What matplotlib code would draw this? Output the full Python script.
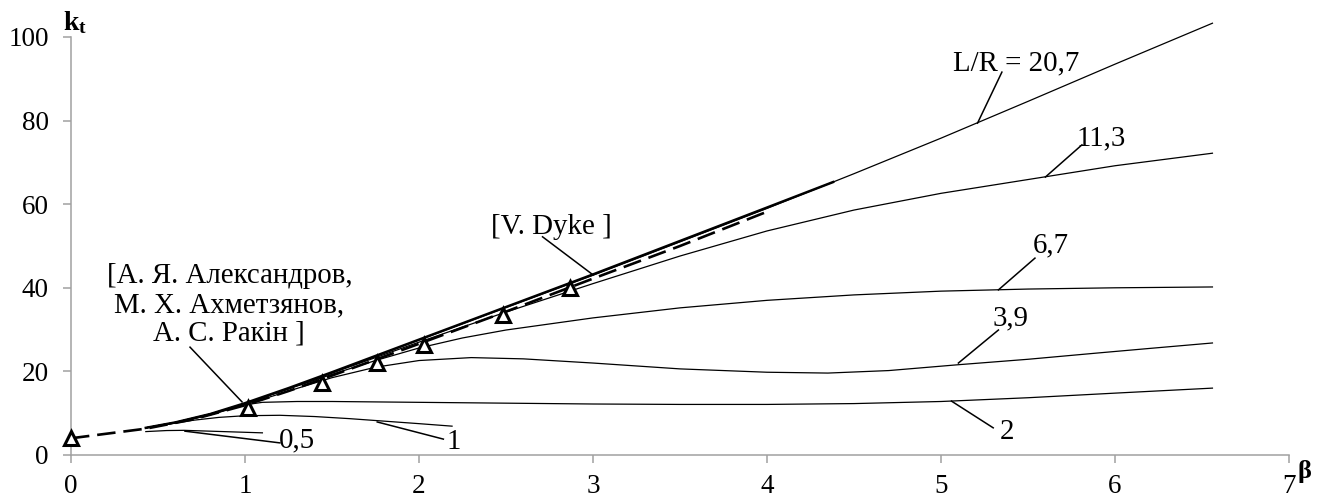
import matplotlib
matplotlib.use("Agg")
import matplotlib.pyplot as plt

plt.rcParams['font.family'] = ['Liberation Serif', 'DejaVu Serif']
plt.rcParams['mathtext.fontset'] = 'custom'
plt.rcParams['mathtext.rm'] = 'Liberation Serif'
plt.rcParams['mathtext.bf'] = 'Liberation Serif:bold'

# L/R = 20,7
b_207 = [0.43, 0.6, 0.8, 1.0, 1.25, 1.5, 1.75, 2.0, 2.5, 3.0, 3.5, 4.0, 4.5, 5.0, 5.5, 6.0, 6.56]
k_207 = [6.5, 7.8, 9.8, 12.3, 15.9, 19.7, 23.6, 27.5, 35.3, 43.0, 51.0, 59.0, 67.3, 75.8, 84.6, 93.5, 103.3]

# L/R = 11,3
b_113 = [0.43, 0.6, 0.8, 1.0, 1.25, 1.5, 1.75, 2.0, 2.5, 3.0, 3.5, 4.0, 4.5, 5.0, 5.5, 6.0, 6.56]
k_113 = [6.5, 7.8, 9.8, 12.3, 15.9, 19.6, 23.3, 27.0, 34.2, 41.0, 47.6, 53.6, 58.6, 62.6, 65.9, 69.2, 72.2]

# L/R = 6,7
b_67 = [0.43, 0.6, 0.8, 1.0, 1.25, 1.5, 1.75, 2.0, 2.25, 2.5, 3.0, 3.5, 4.0, 4.5, 5.0, 5.5, 6.0, 6.56]
k_67 = [6.5, 7.8, 9.8, 12.3, 15.8, 19.3, 22.6, 25.6, 28.0, 29.9, 32.8, 35.2, 37.0, 38.3, 39.2, 39.7, 40.0, 40.2]

# L/R = 3,9
b_39 = [0.43, 0.6, 0.8, 1.0, 1.25, 1.5, 1.75, 2.0, 2.3, 2.6, 3.0, 3.5, 4.0, 4.35, 4.7, 5.1, 5.5, 5.9, 6.2, 6.56]
k_39 = [6.5, 7.7, 9.6, 12.0, 15.3, 18.5, 21.0, 22.6, 23.3, 23.0, 22.0, 20.6, 19.8, 19.6, 20.2, 21.6, 22.9, 24.4, 25.5, 26.8]

# L/R = 2
b_2 = [0.43, 0.6, 0.8, 0.9, 1.0, 1.1, 1.3, 1.5, 2.0, 2.5, 3.0, 3.5, 4.0, 4.5, 5.0, 5.5, 6.0, 6.56]
k_2 = [6.5, 7.7, 9.6, 10.9, 12.0, 12.6, 12.8, 12.8, 12.6, 12.4, 12.2, 12.1, 12.1, 12.3, 12.8, 13.7, 14.8, 16.0]

# L/R = 1
b_1 = [0.43, 0.55, 0.7, 0.85, 1.0, 1.2, 1.4, 1.6, 1.8, 2.0, 2.19]
k_1 = [6.5, 7.3, 8.3, 9.0, 9.4, 9.5, 9.2, 8.7, 8.1, 7.5, 6.9]

# L/R = 0,5
b_05 = [0.43, 0.55, 0.65, 0.8, 0.95, 1.1]
k_05 = [5.6, 5.85, 5.9, 5.7, 5.5, 5.3]

# V. Dyke (thick line)
b_dyke = [0.43, 0.6, 0.8, 1.0, 1.25, 1.5, 1.75, 2.0, 2.5, 3.0, 3.5, 4.0, 4.38]
k_dyke = [6.5, 7.8, 9.8, 12.4, 16.0, 19.8, 23.7, 27.6, 35.4, 43.2, 51.2, 59.2, 65.3]

# dashed line
b_dash = [0, 0.43, 0.7, 1.0, 1.25, 1.5, 1.75, 2.0, 2.5, 3.0, 3.5, 4.0]
k_dash = [4.0, 6.3, 8.5, 11.9, 15.3, 19.0, 22.8, 26.6, 34.3, 42.2, 50.0, 58.2]

# triangles (Aleksandrov et al.)
b_tri = [0, 1.02, 1.44, 1.76, 2.03, 2.48, 2.87]
k_tri = [4.0, 11.2, 17.2, 22.0, 26.3, 33.5, 40.0]

FS = 19.5
FS_ANN = 20.8

fig = plt.figure(figsize=(13.29, 4.97), dpi=100)
ax = fig.add_axes([71 / 1329, 42 / 497, 1218 / 1329, 418 / 497])

thin = dict(color='black', lw=0.9, clip_on=False)
for b, k in [(b_207, k_207), (b_113, k_113), (b_67, k_67), (b_39, k_39),
             (b_2, k_2), (b_1, k_1), (b_05, k_05)]:
    ax.plot(b, k, **thin)

ax.plot(b_dyke, k_dyke, color='black', lw=1.8, clip_on=False)
ax.plot(b_dash, k_dash, color='black', lw=1.9, dashes=(7, 3), clip_on=False)
ax.plot(b_tri, k_tri, linestyle='none', marker='^', ms=10.5, mew=2.2,
        mfc='white', mec='black', clip_on=False, zorder=5)

# curve labels with leader lines
labels = [
    ("L/R = 20,7", (5.43, 93.8), (5.35, 91.6), (5.21, 79.4)),
    ("11,3", (5.92, 75.8), (5.81, 74.2), (5.60, 66.5)),
    ("6,7", (5.63, 50.2), (5.54, 47.1), (5.33, 39.5)),
    ("3,9", (5.40, 32.8), (5.33, 29.9), (5.10, 22.0)),
    ("2", (5.38, 5.5), (5.30, 6.5), (5.06, 12.9)),
    ("1", (2.20, 3.1), (2.14, 3.8), (1.76, 7.9)),
    ("0,5", (1.30, 3.6), (1.20, 2.9), (0.655, 5.7)),
    ("[V. Dyke ]", (2.76, 54.5), (2.71, 52.2), (3.0, 43.1)),
    ("[А. Я. Александров,\nМ. Х. Ахметзянов,\nА. С. Ракін ]", (0.91, 35.9), (0.684, 25.8), (0.983, 12.7)),
]
for txt, pos, p0, p1 in labels:
    ax.text(pos[0], pos[1], txt, fontsize=FS_ANN, ha='center', va='center',
            linespacing=1.15, clip_on=False)
    ax.plot([p0[0], p1[0]], [p0[1], p1[1]], color='black', lw=1.1, clip_on=False)

# axis titles
ax.text(-0.046, 101.7, r"$\mathbf{k_t}$", fontsize=20, ha='left', va='baseline', clip_on=False)
ax.text(7.09, -4.0, "β", fontsize=19, fontweight='bold', ha='center', va='center', clip_on=False)

ax.set_xlim(0, 7)
ax.set_ylim(0, 100)
ax.set_xticks(range(0, 8))
ax.set_yticks(range(0, 101, 20))
for s in ['top', 'right']:
    ax.spines[s].set_visible(False)
for s in ['left', 'bottom']:
    ax.spines[s].set_color('#a0a0a0')
    ax.spines[s].set_linewidth(1.1)
ax.tick_params(direction='out', length=6, width=1.1, color='#a0a0a0', labelsize=FS)
ax.tick_params(axis='y', pad=10)
ax.tick_params(axis='x', pad=8)

fig.savefig("out.png", dpi=100)
